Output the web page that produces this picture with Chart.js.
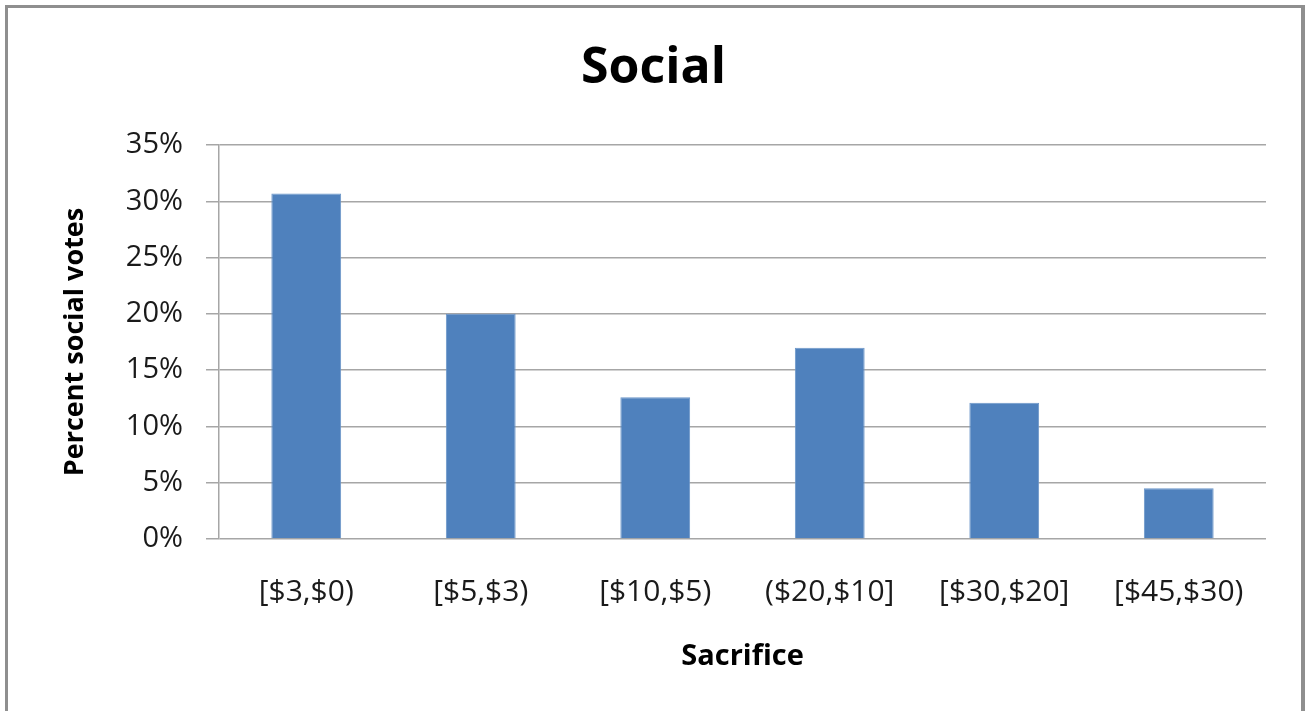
<!DOCTYPE html>
<html>
<head>
<meta charset="utf-8">
<script src="https://cdn.jsdelivr.net/npm/chart.js@4"></script>
<style>
  html, body { margin: 0; padding: 0; background: #fff; }
  #wrap { width: 1307px; height: 711px; position: relative; }
</style>
</head>
<body>
<div id="wrap"><canvas id="c" width="1307" height="711"></canvas></div>
<script>
const categories = ['[$3,$0)', '[$5,$3)', '[$10,$5)', '($20,$10]', '[$30,$20]', '[$45,$30)'];
const socialPercent = [30.7, 20.0, 12.6, 17.0, 12.1, 4.5];
const yTickMax = 35;
const yTickStep = 5;
const chartTitle = 'Social';
const xTitle = 'Sacrifice';
const yTitle = 'Percent social votes';

const frame = {
  id: 'frame',
  beforeDraw(chart) {
    const ctx = chart.ctx;
    ctx.save();
    ctx.fillStyle = '#ffffff';
    ctx.fillRect(0, 0, chart.width, chart.height);
    ctx.fillStyle = '#8f8f8f';
    ctx.fillRect(5, 5, 3, chart.height - 5);
    ctx.fillRect(5, 5, 1300, 3);
    ctx.fillRect(1301, 5, 4, chart.height - 5);
    ctx.restore();
  }
};

const FONT = "'Open Sans', 'DejaVu Sans', sans-serif";

new Chart(document.getElementById('c'), {
  type: 'bar',
  data: {
    labels: categories,
    datasets: [{
      data: socialPercent,
      backgroundColor: '#4f81bd',
      borderColor: '#6b96c9',
      borderWidth: 1,
      categoryPercentage: 1.0,
      barPercentage: 0.4
    }]
  },
  options: {
    responsive: false,
    animation: false,
    layout: { padding: { left: 41, right: 41, top: 0, bottom: 0 } },
    plugins: {
      legend: { display: false },
      tooltip: { enabled: false },
      title: {
        display: true,
        text: chartTitle,
        color: '#000',
        font: { family: FONT, size: 50, weight: 'bold' },
        padding: { top: 39, bottom: 46 }
      }
    },
    scales: {
      x: {
        grid: { display: false },
        border: { display: false },
        ticks: {
          color: '#1a1a1a',
          font: { family: FONT, size: 30 },
          padding: 27,
          maxRotation: 0,
          autoSkip: false
        },
        title: {
          display: true,
          text: xTitle,
          color: '#000',
          font: { family: FONT, size: 29, weight: 'bold' },
          padding: { top: 0, bottom: 37 }
        },
        afterFit(scale) { scale.height = 172; }
      },
      y: {
        min: 0,
        max: yTickMax,
        grid: {
          color: '#a6a6a6',
          lineWidth: 1.5,
          drawTicks: true,
          tickLength: 13
        },
        border: { display: true, color: '#a6a6a6', width: 1.5 },
        ticks: {
          stepSize: yTickStep,
          color: '#1a1a1a',
          font: { family: FONT, size: 29 },
          padding: 23,
          callback: (v) => v + '%'
        },
        title: {
          display: true,
          text: yTitle,
          color: '#000',
          font: { family: FONT, size: 27, weight: 'bold' },
          padding: { top: 18, bottom: 0 }
        },
        afterFit(scale) { scale.width = 178; }
      }
    }
  },
  plugins: [frame]
});
</script>
</body>
</html>
